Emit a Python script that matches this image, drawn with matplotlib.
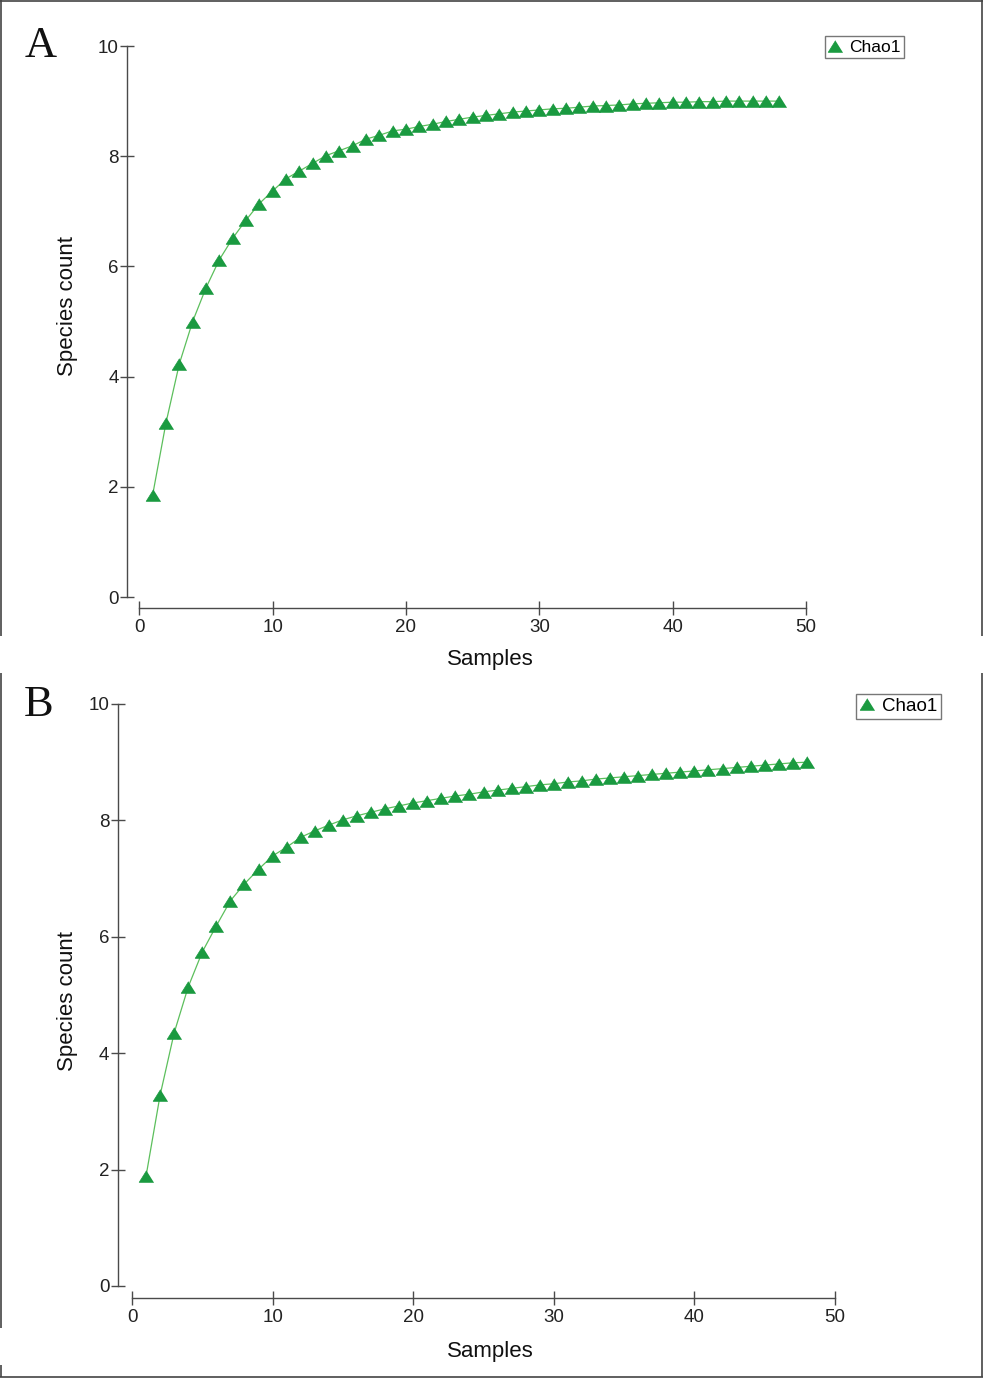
import matplotlib
matplotlib.use("Agg")
import matplotlib.pyplot as plt
from matplotlib.lines import Line2D
from matplotlib import font_manager as fm

# ---------------- data ----------------
samples = list(range(1, 49))

chao1_A = [1.85, 3.16, 4.23, 5.00, 5.61, 6.12, 6.51, 6.84, 7.14, 7.37,
           7.59, 7.73, 7.87, 8.01, 8.10, 8.19, 8.31, 8.38, 8.46, 8.49,
           8.54, 8.58, 8.63, 8.67, 8.71, 8.74, 8.77, 8.80, 8.82, 8.84,
           8.86, 8.87, 8.89, 8.91, 8.92, 8.93, 8.95, 8.96, 8.97, 8.98,
           8.98, 8.99, 8.99, 9.00, 9.00, 9.00, 9.00, 9.00]

chao1_B = [1.89, 3.28, 4.35, 5.14, 5.74, 6.19, 6.62, 6.91, 7.16, 7.39,
           7.54, 7.71, 7.82, 7.92, 8.01, 8.08, 8.14, 8.20, 8.25, 8.30,
           8.34, 8.38, 8.42, 8.45, 8.49, 8.52, 8.55, 8.58, 8.61, 8.63,
           8.66, 8.68, 8.71, 8.73, 8.75, 8.77, 8.79, 8.81, 8.83, 8.85,
           8.87, 8.89, 8.91, 8.93, 8.95, 8.97, 8.99, 9.00]

x_ticks = [0, 10, 20, 30, 40, 50]
y_ticks = [0, 2, 4, 6, 8, 10]
series_name = "Chao1"
panel_labels = ["A", "B"]
x_label = "Samples"
y_label = "Species count"

# ---------------- style ----------------
W, H = 984, 1378
PX = 72 / 100  # points per pixel
fig = plt.figure(figsize=(W / 100, H / 100), dpi=100)
fig.patch.set_facecolor("white")

available = {f.name for f in fm.fontManager.ttflist}
narrow = "Liberation Sans Narrow" if "Liberation Sans Narrow" in available else None
sans = "Liberation Sans"
label_family = narrow if narrow else sans
label_size = 19 if narrow else 16

marker_color = "#1a9a40"
line_color = "#5cbf5c"
axis_color = "#4a4a4a"
tri = [(0, 0.8), (-1, -0.8), (1, -0.8)]


def px_rect(l, r, t, b):
    return [l / W, 1 - b / H, (r - l) / W, (b - t) / H]


panels = [
    dict(data=chao1_A, rect=px_rect(139.3, 806, 46, 597), off_l=12, off_b=11,
         label_xy=(41, 46), xlab=(490, 660), ylab=(68, 306),
         leg=(825, 36), leg_size=12.5),
    dict(data=chao1_B, rect=px_rect(132, 835, 704, 1286), off_l=14, off_b=12,
         label_xy=(39, 705), xlab=(490, 1352), ylab=(68, 1001),
         leg=(856, 694), leg_size=13.5),
]

for p, name in zip(panels, panel_labels):
    ax = fig.add_axes(p["rect"])
    ax.set_facecolor("none")
    ax.plot(samples, p["data"], color=line_color, lw=0.9, marker=tri,
            markersize=10.5, markerfacecolor=marker_color,
            markeredgecolor=marker_color, markeredgewidth=0.5,
            clip_on=False, label=series_name, zorder=3)
    ax.set_xlim(0, 50)
    ax.set_ylim(0, 10)
    ax.set_xticks(x_ticks)
    ax.set_yticks(y_ticks)
    for s in ["top", "right"]:
        ax.spines[s].set_visible(False)
    ax.spines["left"].set_position(("outward", p["off_l"] * PX))
    ax.spines["bottom"].set_position(("outward", p["off_b"] * PX))
    for s in ["left", "bottom"]:
        ax.spines[s].set_color(axis_color)
        ax.spines[s].set_linewidth(1.0)
    ax.spines["left"].set_bounds(0, 10)
    ax.spines["bottom"].set_bounds(0, 50)
    ax.tick_params(axis="both", direction="inout", length=10.5, width=1.0,
                   color=axis_color, labelcolor="#222222", labelsize=13.5)
    ax.tick_params(axis="y", pad=1.0)
    ax.tick_params(axis="x", pad=2.8)
    for lab in ax.get_xticklabels() + ax.get_yticklabels():
        lab.set_fontfamily(sans)

    ax.set_xlabel(x_label, fontfamily=label_family, fontsize=label_size,
                  color="#111111")
    ax.xaxis.set_label_coords(p["xlab"][0] / W, 1 - p["xlab"][1] / H,
                              transform=fig.transFigure)
    ax.xaxis.label.set_va("center")
    ax.set_ylabel(y_label, fontfamily=label_family, fontsize=label_size,
                  color="#111111")
    ax.yaxis.set_label_coords(p["ylab"][0] / W, 1 - p["ylab"][1] / H,
                              transform=fig.transFigure)
    ax.yaxis.label.set_va("center")

    leg = ax.legend(loc="upper left",
                    bbox_to_anchor=(p["leg"][0] / W, 1 - p["leg"][1] / H),
                    bbox_transform=fig.transFigure, borderaxespad=0,
                    frameon=True, fancybox=False, handlelength=0.8,
                    handletextpad=0.4, borderpad=0.2,
                    prop={"family": sans, "size": p["leg_size"]})
    leg.get_frame().set_edgecolor("#555555")
    leg.get_frame().set_linewidth(1.0)
    for h in leg.legend_handles:
        h.set_linestyle("none")

    fig.text(p["label_xy"][0] / W, 1 - p["label_xy"][1] / H, name,
             fontfamily="Liberation Serif", fontsize=32, ha="center",
             va="center", color="#111111")

# ---------------- frame lines ----------------
def seg(x0, y0, x1, y1):
    fig.add_artist(Line2D([x0 / W, x1 / W], [1 - y0 / H, 1 - y1 / H],
                          transform=fig.transFigure, color="#444444",
                          lw=1.2, solid_capstyle="butt"))

seg(1, 0, 1, 636)
seg(0, 1, 983, 1)
seg(982, 0, 982, 636)
seg(1, 673, 1, 1328)
seg(1, 1365, 1, 1377)
seg(0, 1376.5, 983, 1376.5)
seg(982, 673, 982, 1377)

fig.savefig("out.png", dpi=100, facecolor="white")
